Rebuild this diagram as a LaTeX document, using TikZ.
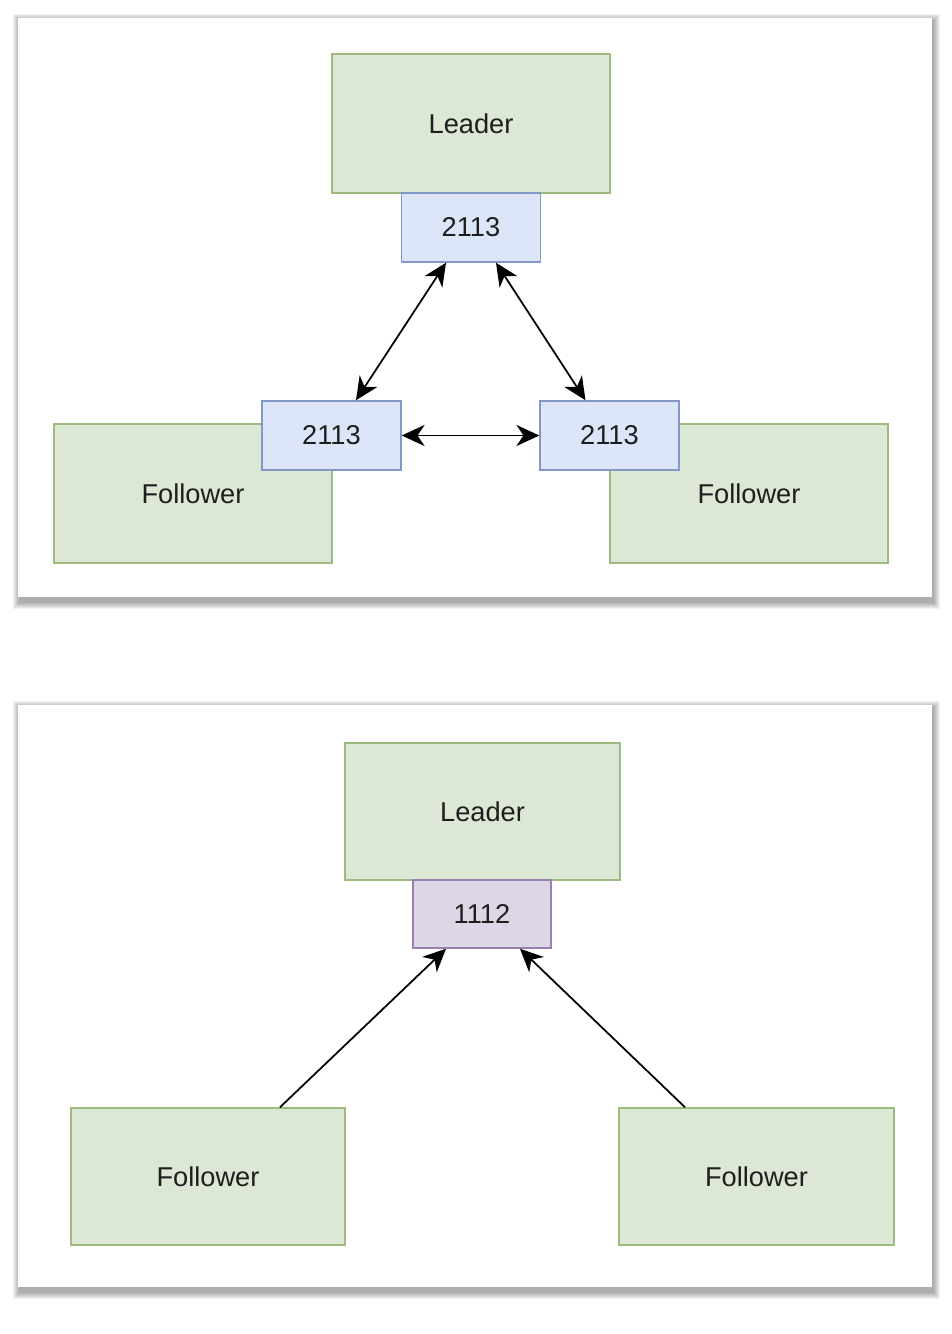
\documentclass[tikz,border=0pt]{standalone}
\usepackage{fontspec}
\setmainfont{Liberation Sans}
\usepackage{tikz}
\usetikzlibrary{arrows.meta}

\definecolor{grnfill}{HTML}{DCE7D6}
\definecolor{grnline}{HTML}{9DBB7E}
\definecolor{blufill}{HTML}{DCE6F8}
\definecolor{bluline}{HTML}{8298C8}
\definecolor{purfill}{HTML}{DDD6E6}
\definecolor{purline}{HTML}{9A80AE}
\definecolor{txt}{HTML}{1E1E1E}

\tikzset{
    box/.style={draw, line width=0.85pt, inner sep=0pt, text=txt,
        font=\fontsize{15.5}{18}\selectfont},
    rolebox/.style={box, fill=grnfill, draw=grnline},
    termbox/.style={box, fill=blufill, draw=bluline,
        minimum width=2.78cm, minimum height=1.38cm},
    votebox/.style={box, fill=purfill, draw=purline,
        minimum width=2.76cm, minimum height=1.36cm},
    arr/.style={line width=1pt, -{Stealth[length=13pt,width=12pt,inset=4pt]}},
    darr/.style={line width=1pt, {Stealth[length=13pt,width=12pt,inset=4pt]}-{Stealth[length=13pt,width=12pt,inset=4pt]}}
}

\begin{document}
\begin{tikzpicture}[x=0.02cm, y=-0.02cm]
        \useasboundingbox (0,0) rectangle (952,1334);
        \fill[white] (0,0) rectangle (952,1334);

        % panel shadows
        \foreach \d in {1,...,7} {
            \fill[black, opacity=0.05] (18-\d+2,18-\d+3) rectangle (932+\d+1,597+\d+5);
            \fill[black, opacity=0.05] (18-\d+2,705-\d+3) rectangle (932+\d+1,1287+\d+5);
        }
        \fill[white] (18,18) rectangle (932,597);
        \fill[white] (18,705) rectangle (932,1287);

        % top panel
        \node[rolebox, minimum width=5.56cm, minimum height=2.78cm] (tldr) at (471,123.5) {Leader};
        \node[rolebox, minimum width=5.56cm, minimum height=2.78cm] (tlf) at (193,493.5) {Follower};
        \node[rolebox, minimum width=5.56cm, minimum height=2.78cm] (trf) at (749,493.5) {Follower};
        \node[termbox] (tnum) at (471,227.5) {2113};
        \node[termbox] (lnum) at (331.5,435.5) {2113};
        \node[termbox] (rnum) at (609.5,435.5) {2113};

        \draw[darr] ([xshift=-0.5cm]tnum.south) -- ([xshift=0.49cm]lnum.north);
        \draw[darr] ([xshift=0.5cm]tnum.south) -- ([xshift=-0.48cm]rnum.north);
        \draw[darr] (lnum.east) -- (rnum.west);

        % bottom panel
        \node[rolebox, minimum width=5.5cm, minimum height=2.74cm] (bldr) at (482.5,811.5) {Leader};
        \node[votebox] (bnum) at (482,914) {1112};
        \node[rolebox, minimum width=5.48cm, minimum height=2.74cm] (blf) at (208,1176.5) {Follower};
        \node[rolebox, minimum width=5.5cm, minimum height=2.74cm] (brf) at (756.5,1176.5) {Follower};

        \draw[arr] ([xshift=1.44cm]blf.north) -- ([xshift=-0.72cm]bnum.south);
        \draw[arr] ([xshift=-1.43cm]brf.north) -- ([xshift=0.76cm]bnum.south);

    \end{tikzpicture}
\end{document}
